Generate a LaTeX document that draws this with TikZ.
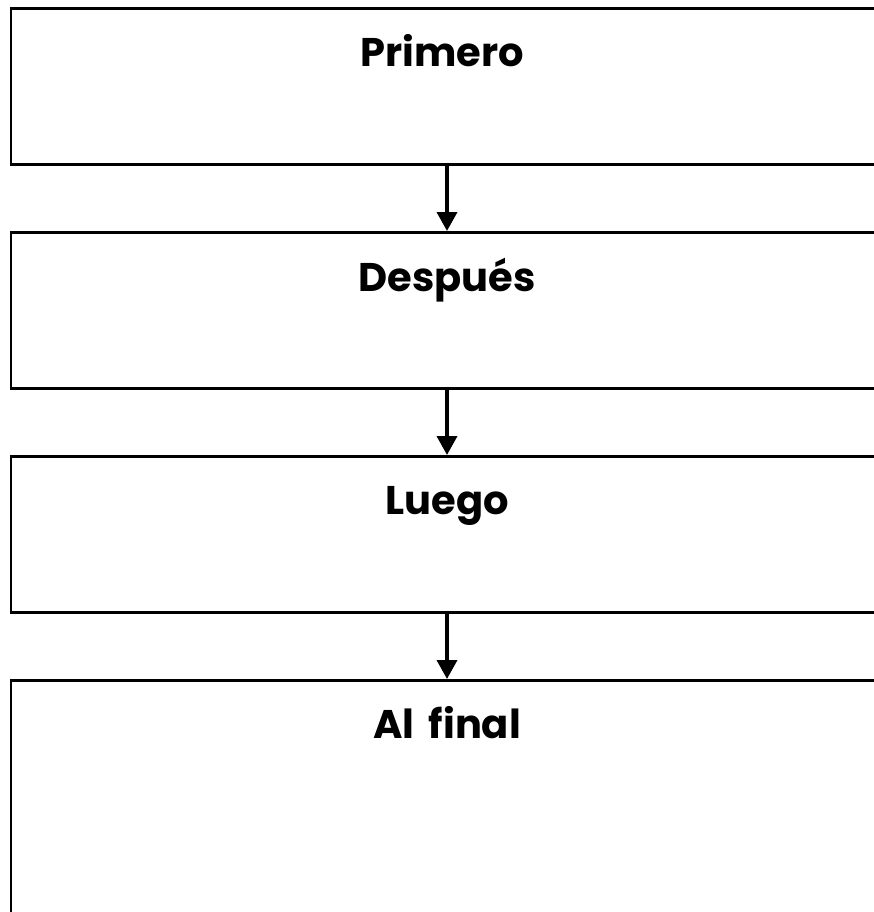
\documentclass[tikz,border=0pt]{standalone}
\usepackage{fontspec}
\setmainfont{Poppins}
\usetikzlibrary{arrows.meta}
\begin{document}
\begin{tikzpicture}[x=1pt,y=-1pt,
  stagebox/.style={draw=black,line width=2.8pt,minimum width=872pt,inner sep=0pt,anchor=north},
  stagelabel/.style={font=\fontsize{40}{48}\selectfont\bfseries,anchor=base,inner sep=0pt},
  flow/.style={line width=3.6pt,-{Triangle[width=20pt,length=19pt]}}]
\useasboundingbox (0,0) rectangle (874,912);
\clip (0,0) rectangle (874,912);
\node[stagebox,minimum height=156pt] (b1) at (447,7) {};
\node[stagebox,minimum height=156pt] (b2) at (447,231) {};
\node[stagebox,minimum height=156pt] (b3) at (447,455) {};
\node[stagebox,minimum height=320pt] (b4) at (447,679) {};
\node[stagelabel] (t1) at (442,67) {Primero};
\node[stagelabel] (t2) at (447,291) {Después};
\node[stagelabel] (t3) at (447,514) {Luego};
\node[stagelabel] (t4) at (447,738) {Al\hspace{6pt} final};
\draw[flow] (b1.south) -- (b2.north);
\draw[flow] (b2.south) -- (b3.north);
\draw[flow] (b3.south) -- (b4.north);
\end{tikzpicture}
\end{document}
